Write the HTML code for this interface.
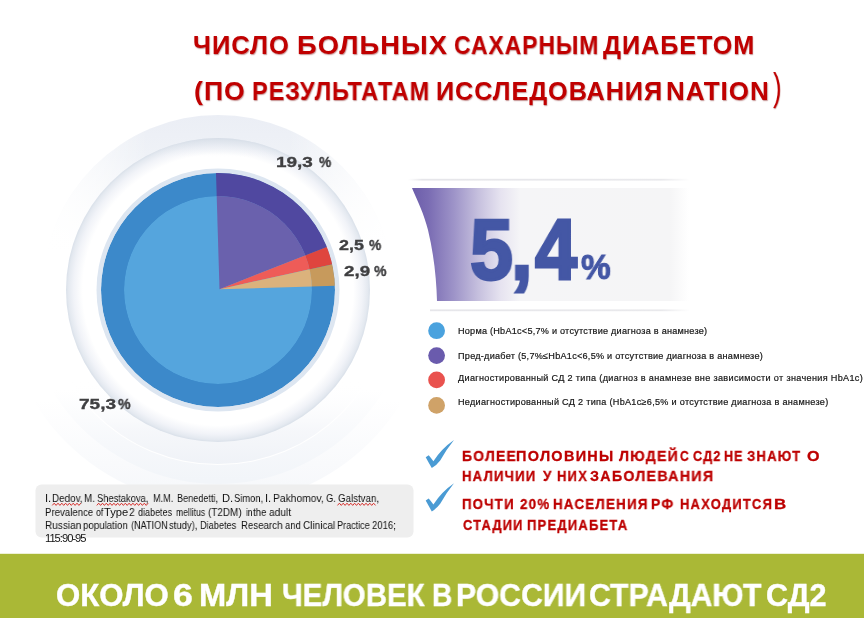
<!DOCTYPE html>
<html lang="ru">
<head>
<meta charset="utf-8">
<title>Число больных сахарным диабетом</title>
<style>
html,body{margin:0;padding:0;background:#fff;}
body{width:864px;height:618px;position:relative;overflow:hidden;font-family:"Liberation Sans",sans-serif;}
#bg{position:absolute;left:0;top:0;width:864px;height:618px;}
.t{position:absolute;white-space:nowrap;transform-origin:0 0;line-height:1;will-change:transform;}
.title{color:#c00000;font-weight:bold;font-size:25px;letter-spacing:.85px;text-shadow:0.6px 0.8px 1.2px rgba(120,0,0,.45);}
.lbl{color:#3f3f41;font-weight:bold;font-size:15.2px;letter-spacing:.8px;-webkit-text-stroke:.35px #3f3f41;}
.leg{color:#161616;font-size:8.6px;-webkit-text-stroke:.2px #161616;}
.bul{color:#bd0000;font-weight:bold;font-size:14px;letter-spacing:.4px;-webkit-text-stroke:.3px #bd0000;}
.cit{color:#111;font-size:10.6px;letter-spacing:-.45px;}
.foot{color:#fff;font-weight:bold;font-size:30.7px;-webkit-text-stroke:.4px #fff;}
.big{color:#4457a5;font-weight:bold;-webkit-text-stroke:3px #4457a5;}
</style>
</head>
<body>
<svg id="bg" width="864" height="618" viewBox="0 0 864 618">
<defs>
<linearGradient id="gOuter" x1="0" y1="115" x2="0" y2="250" gradientUnits="userSpaceOnUse">
<stop offset="0" stop-color="#ebeef5"/><stop offset=".3" stop-color="#eff2f7"/><stop offset=".7" stop-color="#f9fafc"/><stop offset="1" stop-color="#ffffff"/>
</linearGradient>
<linearGradient id="gOuterH" x1="43" y1="0" x2="393" y2="0" gradientUnits="userSpaceOnUse">
<stop offset="0" stop-color="#fff" stop-opacity="1"/><stop offset=".12" stop-color="#fff" stop-opacity=".6"/><stop offset=".3" stop-color="#fff" stop-opacity="0"/><stop offset=".7" stop-color="#fff" stop-opacity="0"/><stop offset=".9" stop-color="#fff" stop-opacity=".7"/><stop offset="1" stop-color="#fff" stop-opacity="1"/>
</linearGradient>
<linearGradient id="gFar" x1="0" y1="390" x2="0" y2="480" gradientUnits="userSpaceOnUse">
<stop offset="0" stop-color="#ffffff"/><stop offset=".6" stop-color="#f6f8fb"/><stop offset="1" stop-color="#f2f5f9"/>
</linearGradient>
<linearGradient id="gFar2" x1="0" y1="400" x2="0" y2="505" gradientUnits="userSpaceOnUse">
<stop offset="0" stop-color="#ffffff"/><stop offset=".6" stop-color="#f9fafc"/><stop offset="1" stop-color="#f5f7fa"/>
</linearGradient>
<linearGradient id="gFar3" x1="0" y1="380" x2="0" y2="465" gradientUnits="userSpaceOnUse">
<stop offset="0" stop-color="#ffffff" stop-opacity="0"/><stop offset=".6" stop-color="#f3f5f9" stop-opacity=".8"/><stop offset="1" stop-color="#eff2f7"/>
</linearGradient>
<linearGradient id="gRingTop" x1="0" y1="138" x2="0" y2="200" gradientUnits="userSpaceOnUse">
<stop offset="0" stop-color="#d5dce6" stop-opacity=".6"/><stop offset=".13" stop-color="#dde3ec" stop-opacity=".4"/><stop offset=".3" stop-color="#e6ebf2" stop-opacity="0"/>
</linearGradient>
<radialGradient id="gRing" cx="218" cy="290" r="152" gradientUnits="userSpaceOnUse">
<stop offset=".79" stop-color="#ffffff"/><stop offset=".89" stop-color="#ffffff"/><stop offset=".95" stop-color="#f1f3f8"/><stop offset=".985" stop-color="#e4e9f0"/><stop offset="1" stop-color="#d9e0e9"/>
</radialGradient>
<linearGradient id="gBan" x1="412" y1="0" x2="689" y2="0" gradientUnits="userSpaceOnUse">
<stop offset="0" stop-color="#6c5daa"/><stop offset=".06" stop-color="#7a6cb3"/><stop offset=".15" stop-color="#9d93c8"/><stop offset=".24" stop-color="#c6c0de"/><stop offset=".32" stop-color="#e6e3f0"/><stop offset=".39" stop-color="#f5f5f7"/><stop offset=".93" stop-color="#f5f5f6"/><stop offset="1" stop-color="#ffffff"/>
</linearGradient>
<linearGradient id="gLine" x1="408" y1="0" x2="690" y2="0" gradientUnits="userSpaceOnUse">
<stop offset="0" stop-color="#e9e9ec" stop-opacity="0"/><stop offset=".05" stop-color="#e6e6ea"/><stop offset=".9" stop-color="#e9e9ec"/><stop offset="1" stop-color="#e9e9ec" stop-opacity="0"/>
</linearGradient>
<clipPath id="cInner"><circle cx="218" cy="290" r="94"/></clipPath>
<clipPath id="cPie"><circle cx="218" cy="290" r="117"/></clipPath>
</defs>

<!-- faint far rings -->
<circle cx="218" cy="290" r="215" fill="url(#gFar2)"/>
<circle cx="218" cy="290" r="194" fill="url(#gFar)"/>
<circle cx="218" cy="290" r="175" fill="url(#gOuter)"/>
<circle cx="218" cy="290" r="175" fill="url(#gOuterH)"/>
<circle cx="218" cy="290" r="174" fill="url(#gFar3)"/>
<circle cx="218" cy="290" r="152" fill="url(#gRing)"/>
<circle cx="218" cy="290" r="152" fill="url(#gRingTop)"/>
<circle cx="218" cy="290" r="121.5" fill="#dde6f1"/>

<!-- pie outer -->
<g clip-path="url(#cPie)">
<circle cx="218" cy="290" r="117" fill="#3c89ca"/>
<polygon points="219.5,289.2 214.6,126.8 400.0,100.0 371.4,229.4" fill="#5048a0"/>
<polygon points="219.5,289.2 371.4,229.4 379.0,253.9" fill="#df453e"/>
<polygon points="219.5,289.2 379.0,253.9 382.6,284.4" fill="#c79a5c"/>
</g>
<!-- pie inner (lighter) -->
<g clip-path="url(#cInner)">
<circle cx="218" cy="290" r="94" fill="#55a5dd"/>
<polygon points="219.5,289.2 214.6,126.8 400.0,100.0 371.4,229.4" fill="#6a61ad"/>
<polygon points="219.5,289.2 371.4,229.4 379.0,253.9" fill="#ee5c58"/>
<polygon points="219.5,289.2 379.0,253.9 382.6,284.4" fill="#dbb27c"/>
</g>

<!-- banner -->
<rect x="408" y="178.8" width="282" height="1.8" fill="url(#gLine)"/>
<rect x="430" y="309.4" width="260" height="1.8" fill="url(#gLine)"/>
<path d="M412,188 L689,188 L689,301 L437,301 C436.5,280 434,255 428,230 C424,214 418,202 412,188 Z" fill="url(#gBan)"/>

<!-- legend dots -->
<circle cx="436.6" cy="330.7" r="8.4" fill="#4aa2de"/>
<circle cx="436.6" cy="355.6" r="8.4" fill="#6a5bad"/>
<circle cx="436.6" cy="379.9" r="8.4" fill="#e9524e"/>
<circle cx="436.6" cy="405.4" r="8.4" fill="#cfa268"/>

<!-- checks -->
<path d="M425.7,457.3 L428.7,455.2 Q430.8,457.6 433.4,461.2 Q441.5,448.6 454,440 Q446,450 440.2,460.4 Q436,465.8 431.8,468.1 Q428.5,462.5 425.7,457.3 Z" fill="#4a9bd4"/>
<path d="M425.7,457.3 L428.7,455.2 Q430.8,457.6 433.4,461.2 Q441.5,448.6 454,440 Q446,450 440.2,460.4 Q436,465.8 431.8,468.1 Q428.5,462.5 425.7,457.3 Z" fill="#4a9bd4" transform="translate(0,43.3)"/>

<!-- citation box -->
<rect x="35.5" y="484.5" width="378" height="53" rx="6" fill="#eeeeee"/>

<!-- spell squiggles -->
<g id="sq">
<polyline points="52.3,505.4 54.2,503.2 56.1,505.4 58.0,503.2 59.9,505.4 61.8,503.2 63.7,505.4 65.6,503.2 67.5,505.4 69.4,503.2 71.3,505.4 73.2,503.2 75.1,505.4 77.0,503.2 78.9,505.4 80.8,503.2" fill="none" stroke="#d62f2b" stroke-width="1" stroke-linejoin="round"/>
<polyline points="96.8,505.4 98.7,503.2 100.6,505.4 102.5,503.2 104.4,505.4 106.3,503.2 108.2,505.4 110.1,503.2 112.0,505.4 113.9,503.2 115.8,505.4 117.7,503.2 119.6,505.4 121.5,503.2 123.4,505.4 125.3,503.2 127.2,505.4 129.1,503.2 131.0,505.4 132.9,503.2 134.8,505.4 136.7,503.2 138.6,505.4 140.5,503.2 142.4,505.4 144.3,503.2 146.2,505.4 148.1,503.2" fill="none" stroke="#d62f2b" stroke-width="1" stroke-linejoin="round"/>
<polyline points="337.5,505.4 339.4,503.2 341.3,505.4 343.2,503.2 345.1,505.4 347.0,503.2 348.9,505.4 350.8,503.2 352.7,505.4 354.6,503.2 356.5,505.4 358.4,503.2 360.3,505.4 362.2,503.2 364.1,505.4 366.0,503.2 367.9,505.4 369.8,503.2 371.7,505.4 373.6,503.2 375.5,505.4" fill="none" stroke="#d62f2b" stroke-width="1" stroke-linejoin="round"/>
</g>

<!-- footer -->
<rect x="0" y="553.8" width="864" height="65" fill="#aab836"/>
</svg>

<div class="t title" style="left:193.47px;top:33.44px;font-size:25.0px;letter-spacing:1.0px;transform:scaleX(1.0197);">ЧИСЛО</div>
<div class="t title" style="left:296.66px;top:33.44px;font-size:25.0px;letter-spacing:1.0px;transform:scaleX(1.0900);">БОЛЬНЫХ</div>
<div class="t title" style="left:454.08px;top:33.44px;font-size:25.0px;letter-spacing:1.0px;transform:scaleX(0.9172);">САХАРНЫМ</div>
<div class="t title" style="left:602.70px;top:33.44px;font-size:25.0px;letter-spacing:1.0px;transform:scaleX(1.0054);">ДИАБЕТОМ</div>
<div class="t title" style="left:193.94px;top:79.14px;font-size:25.0px;letter-spacing:1.0px;transform:scaleX(1.0615);">(ПО</div>
<div class="t title" style="left:251.89px;top:79.14px;font-size:25.0px;letter-spacing:1.0px;transform:scaleX(0.9380);">РЕЗУЛЬТАТАМ</div>
<div class="t title" style="left:435.79px;top:79.14px;font-size:25.0px;letter-spacing:1.0px;transform:scaleX(1.0054);">ИССЛЕДОВАНИЯ</div>
<div class="t title" style="left:665.74px;top:79.14px;font-size:25.0px;letter-spacing:1.0px;transform:scaleX(1.0385);">NATION</div>
<div class="t title" style="left:772.96px;top:68.03px;font-size:38px;letter-spacing:0px;transform:scaleX(0.6700);font-weight:normal;">)</div>
<div class="t lbl" style="left:275.57px;top:154.46px;font-size:15.4px;letter-spacing:0px;transform:scaleX(1.2316);">19,3</div>
<div class="t lbl pc" style="left:318.70px;top:154.46px;font-size:15.4px;letter-spacing:0px;transform:scaleX(0.8889);">%</div>
<div class="t lbl" style="left:338.52px;top:237.46px;font-size:15.4px;letter-spacing:0px;transform:scaleX(1.1610);">2,5</div>
<div class="t lbl pc" style="left:368.50px;top:237.46px;font-size:15.4px;letter-spacing:0px;transform:scaleX(0.8889);">%</div>
<div class="t lbl" style="left:344.09px;top:263.36px;font-size:15.4px;letter-spacing:0px;transform:scaleX(1.2195);">2,9</div>
<div class="t lbl pc" style="left:373.70px;top:263.36px;font-size:15.4px;letter-spacing:0px;transform:scaleX(0.9111);">%</div>
<div class="t lbl" style="left:79.28px;top:395.96px;font-size:15.4px;letter-spacing:0px;transform:scaleX(1.2379);">75,3</div>
<div class="t lbl pc" style="left:118.40px;top:395.96px;font-size:15.4px;letter-spacing:0px;transform:scaleX(0.9185);">%</div>
<div class="t big" style="left:469.80px;top:206.40px;font-size:86px;letter-spacing:0px;transform:scaleX(0.8978);">5</div>
<div class="t big" style="left:511.29px;top:206.40px;font-size:86px;letter-spacing:0px;transform:scaleX(0.9030);">,</div>
<div class="t big" style="left:534.50px;top:206.40px;font-size:86px;letter-spacing:0px;transform:scaleX(0.8776);">4</div>
<div class="t big" style="left:580.83px;top:250.35px;font-size:35.5px;letter-spacing:0px;transform:scaleX(0.9410);-webkit-text-stroke-width:1px;">%</div>
<div class="t bul" style="left:462.03px;top:448.65px;font-size:14.3px;letter-spacing:1.3px;transform:scaleX(0.9722);">БОЛЕЕ</div>
<div class="t bul" style="left:516.49px;top:448.65px;font-size:14.3px;letter-spacing:1.3px;transform:scaleX(1.0106);">ПОЛОВИНЫ</div>
<div class="t bul" style="left:618.75px;top:448.65px;font-size:14.3px;letter-spacing:1.3px;transform:scaleX(0.9873);">ЛЮДЕЙ</div>
<div class="t bul" style="left:680.33px;top:448.65px;font-size:14.3px;letter-spacing:0px;transform:scaleX(0.8421);">С</div>
<div class="t bul" style="left:693.31px;top:448.65px;font-size:14.3px;letter-spacing:1.3px;transform:scaleX(0.8833);">СД2</div>
<div class="t bul" style="left:723.62px;top:448.65px;font-size:14.3px;letter-spacing:1.3px;transform:scaleX(0.8750);">НЕ</div>
<div class="t bul" style="left:747.04px;top:448.65px;font-size:14.3px;letter-spacing:1.3px;transform:scaleX(0.9174);">ЗНАЮТ</div>
<div class="t bul" style="left:806.94px;top:448.65px;font-size:14.3px;letter-spacing:0px;transform:scaleX(1.1250);">О</div>
<div class="t foot" style="left:55.98px;top:580.00px;font-size:30.6px;letter-spacing:0px;transform:scaleX(1.0184);">ОКОЛО</div>
<div class="t foot" style="left:172.58px;top:580.00px;font-size:30.6px;letter-spacing:0px;transform:scaleX(1.1667);">6</div>
<div class="t foot" style="left:199.11px;top:580.00px;font-size:30.6px;letter-spacing:0px;transform:scaleX(1.0687);">МЛН</div>
<div class="t foot" style="left:282.31px;top:580.00px;font-size:30.6px;letter-spacing:0px;transform:scaleX(0.9609);">ЧЕЛОВЕК</div>
<div class="t foot" style="left:431.91px;top:580.00px;font-size:30.6px;letter-spacing:0px;transform:scaleX(0.9211);">В</div>
<div class="t foot" style="left:455.53px;top:580.00px;font-size:30.6px;letter-spacing:0px;transform:scaleX(0.9863);">РОССИИ</div>
<div class="t foot" style="left:588.81px;top:580.00px;font-size:30.6px;letter-spacing:0px;transform:scaleX(0.9884);">СТРАДАЮТ</div>
<div class="t foot" style="left:766.20px;top:580.00px;font-size:30.6px;letter-spacing:0px;transform:scaleX(0.9966);">СД2</div>
<div class="t cit" style="left:44.50px;top:492.77px;font-size:11.2px;letter-spacing:0px;transform:scaleX(1.0000);">I.</div>
<div class="t cit" style="left:51.62px;top:492.77px;font-size:11.2px;letter-spacing:0px;transform:scaleX(0.8846);">Dedov,</div>
<div class="t cit" style="left:83.62px;top:492.77px;font-size:11.2px;letter-spacing:0px;transform:scaleX(0.8810);">M.</div>
<div class="t cit" style="left:97.08px;top:492.77px;font-size:11.2px;letter-spacing:0px;transform:scaleX(0.8333);">Shestakova,</div>
<div class="t cit" style="left:152.93px;top:492.77px;font-size:11.2px;letter-spacing:0px;transform:scaleX(0.8152);">M.M.</div>
<div class="t cit" style="left:176.69px;top:492.77px;font-size:11.2px;letter-spacing:0px;transform:scaleX(0.8144);">Benedetti,</div>
<div class="t cit" style="left:221.53px;top:492.77px;font-size:11.2px;letter-spacing:0px;transform:scaleX(0.9722);">D.</div>
<div class="t cit" style="left:234.08px;top:492.77px;font-size:11.2px;letter-spacing:0px;transform:scaleX(0.8358);">Simon,</div>
<div class="t cit" style="left:264.50px;top:492.77px;font-size:11.2px;letter-spacing:0px;transform:scaleX(1.0000);">I.</div>
<div class="t cit" style="left:272.83px;top:492.77px;font-size:11.2px;letter-spacing:0px;transform:scaleX(0.9198);">Pakhomov,</div>
<div class="t cit" style="left:325.83px;top:492.77px;font-size:11.2px;letter-spacing:0px;transform:scaleX(0.8333);">G.</div>
<div class="t cit" style="left:337.57px;top:492.77px;font-size:11.2px;letter-spacing:0px;transform:scaleX(0.8681);">Galstvan,</div>
<div class="t bul" style="left:462.08px;top:469.40px;font-size:14.3px;letter-spacing:1.3px;transform:scaleX(0.9205);">НАЛИЧИИ</div>
<div class="t bul" style="left:543.40px;top:469.40px;font-size:14.3px;letter-spacing:0px;transform:scaleX(0.9444);">У</div>
<div class="t bul" style="left:556.59px;top:469.40px;font-size:14.3px;letter-spacing:1.3px;transform:scaleX(0.9127);">НИХ</div>
<div class="t bul" style="left:589.50px;top:469.40px;font-size:14.3px;letter-spacing:1.3px;transform:scaleX(0.9951);">ЗАБОЛЕВАНИЯ</div>
<div class="t bul" style="left:462.07px;top:497.40px;font-size:14.3px;letter-spacing:1.3px;transform:scaleX(0.9259);">ПОЧТИ</div>
<div class="t bul" style="left:519.53px;top:497.40px;font-size:14.3px;letter-spacing:1.3px;transform:scaleX(0.9344);">20%</div>
<div class="t bul" style="left:552.57px;top:497.40px;font-size:14.3px;letter-spacing:1.3px;transform:scaleX(0.9347);">НАСЕЛЕНИЯ</div>
<div class="t bul" style="left:651.03px;top:497.40px;font-size:14.3px;letter-spacing:1.3px;transform:scaleX(0.9674);">РФ</div>
<div class="t bul" style="left:679.59px;top:497.40px;font-size:14.3px;letter-spacing:1.3px;transform:scaleX(0.9101);">НАХОДИТСЯ</div>
<div class="t bul" style="left:773.82px;top:497.40px;font-size:14.3px;letter-spacing:0px;transform:scaleX(1.1778);">В</div>
<div class="t bul" style="left:462.55px;top:518.40px;font-size:14.3px;letter-spacing:1.3px;transform:scaleX(0.9023);">СТАДИИ</div>
<div class="t bul" style="left:527.09px;top:518.40px;font-size:14.3px;letter-spacing:1.3px;transform:scaleX(0.9124);">ПРЕДИАБЕТА</div>
<div class="t cit" style="left:44.74px;top:506.52px;font-size:11.2px;letter-spacing:0px;transform:scaleX(0.8606);">Prevalence</div>
<div class="t cit" style="left:95.86px;top:506.52px;font-size:11.2px;letter-spacing:0px;transform:scaleX(0.7833);">of</div>
<div class="t cit" style="left:104.20px;top:506.52px;font-size:11.2px;letter-spacing:0px;transform:scaleX(0.9915);">Type</div>
<div class="t cit" style="left:128.74px;top:506.52px;font-size:11.2px;letter-spacing:0px;transform:scaleX(0.9100);">2</div>
<div class="t cit" style="left:137.90px;top:506.52px;font-size:11.2px;letter-spacing:0px;transform:scaleX(0.8048);">diabetes</div>
<div class="t cit" style="left:175.73px;top:506.52px;font-size:11.2px;letter-spacing:0px;transform:scaleX(0.7699);">mellitus</div>
<div class="t cit" style="left:208.36px;top:506.52px;font-size:11.2px;letter-spacing:0px;transform:scaleX(0.8877);">(T2DM)</div>
<div class="t cit" style="left:245.64px;top:506.52px;font-size:11.2px;letter-spacing:0px;transform:scaleX(0.7200);">in</div>
<div class="t cit" style="left:252.90px;top:506.52px;font-size:11.2px;letter-spacing:0px;transform:scaleX(0.8733);">the</div>
<div class="t cit" style="left:268.65px;top:506.52px;font-size:11.2px;letter-spacing:0px;transform:scaleX(0.9064);">adult</div>
<div class="t cit" style="left:44.70px;top:519.52px;font-size:11.2px;letter-spacing:0px;transform:scaleX(0.8974);">Russian</div>
<div class="t cit" style="left:83.32px;top:519.52px;font-size:11.2px;letter-spacing:0px;transform:scaleX(0.8663);">population</div>
<div class="t cit" style="left:131.29px;top:519.52px;font-size:11.2px;letter-spacing:0px;transform:scaleX(0.8136);">(NATION</div>
<div class="t cit" style="left:168.78px;top:519.52px;font-size:11.2px;letter-spacing:0px;transform:scaleX(0.8453);">study),</div>
<div class="t cit" style="left:200.18px;top:519.52px;font-size:11.2px;letter-spacing:0px;transform:scaleX(0.8235);">Diabetes</div>
<div class="t cit" style="left:240.83px;top:519.52px;font-size:11.2px;letter-spacing:0px;transform:scaleX(0.8652);">Research</div>
<div class="t cit" style="left:284.98px;top:519.52px;font-size:11.2px;letter-spacing:0px;transform:scaleX(0.8457);">and</div>
<div class="t cit" style="left:303.25px;top:519.52px;font-size:11.2px;letter-spacing:0px;transform:scaleX(0.8943);">Clinical</div>
<div class="t cit" style="left:336.59px;top:519.52px;font-size:11.2px;letter-spacing:0px;transform:scaleX(0.8103);">Practice</div>
<div class="t cit" style="left:372.08px;top:519.52px;font-size:11.2px;letter-spacing:0px;transform:scaleX(0.8491);">2016;</div>
<div class="t leg" style="left:457.50px;top:326.80px;font-size:9.1px;letter-spacing:0.250px;">Норма (HbA1c&lt;5,7% и отсутствие диагноза в анамнезе)</div>
<div class="t leg" style="left:457.50px;top:352.30px;font-size:9.1px;letter-spacing:0.266px;">Пред-диабет (5,7%≤HbA1c&lt;6,5% и отсутствие диагноза в анамнезе)</div>
<div class="t leg" style="left:458.00px;top:373.55px;font-size:9.1px;letter-spacing:0.333px;">Диагностированный СД 2 типа (диагноз в анамнезе вне зависимости от значения HbA1c)</div>
<div class="t leg" style="left:457.50px;top:398.05px;font-size:9.1px;letter-spacing:0.297px;">Недиагностированный СД 2 типа (HbA1c≥6,5% и отсутствие диагноза в анамнезе)</div>
<div class="t cit" style="left:44.50px;top:532.52px;font-size:11.2px;letter-spacing:-1.000px;">115:90-95</div>
</body>
</html>
